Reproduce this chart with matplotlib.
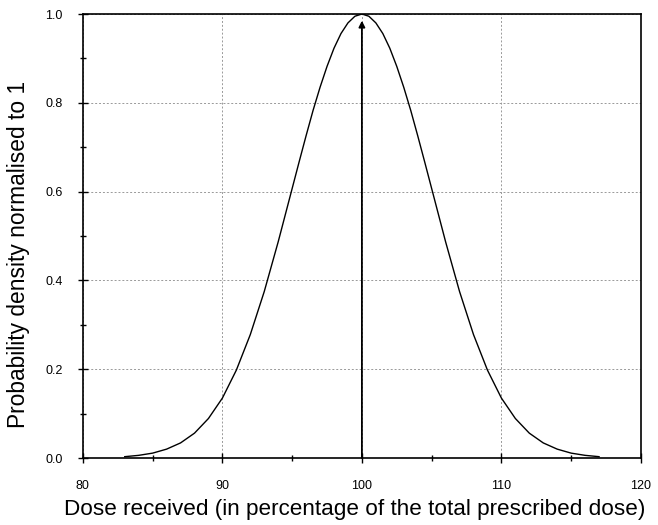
import matplotlib
matplotlib.use("Agg")
import matplotlib.pyplot as plt
from matplotlib.ticker import MultipleLocator, FormatStrFormatter

plt.rcParams['font.family'] = ['Liberation Sans', 'DejaVu Sans']

dose = [83, 84, 85, 86, 87, 88, 89, 90, 91, 92, 93, 94, 95, 95.5, 96, 96.5, 97, 97.5,
        98, 98.5, 99, 99.5, 100, 100.5, 101, 101.5, 102, 102.5, 103, 103.5, 104, 104.5,
        105, 106, 107, 108, 109, 110, 111, 112, 113, 114, 115, 116, 117]
density = [0.003, 0.006, 0.011, 0.020, 0.034, 0.056, 0.089, 0.135, 0.198, 0.278, 0.375,
           0.487, 0.607, 0.667, 0.726, 0.783, 0.835, 0.882, 0.923, 0.956, 0.980, 0.995,
           1.000, 0.995, 0.980, 0.956, 0.923, 0.882, 0.835, 0.783, 0.726, 0.667,
           0.607, 0.487, 0.375, 0.278, 0.198, 0.135, 0.089,
           0.056, 0.034, 0.020, 0.011, 0.006, 0.003]
arrow_x = 100
arrow_top = 0.985

fig = plt.figure(figsize=(6.58, 5.25), dpi=100)
ax = fig.add_axes([0.126, 0.1276, 0.848, 0.8457])
ax.plot(dose, density, color="black", lw=1.0)
ax.annotate("", xy=(arrow_x, arrow_top), xytext=(arrow_x, 0),
            arrowprops=dict(arrowstyle="-|>", color="black", lw=1.3,
                            mutation_scale=9, shrinkA=0, shrinkB=0))
ax.set_xlim(80, 120)
ax.set_ylim(0, 1.0)
ax.xaxis.set_major_locator(MultipleLocator(10))
ax.xaxis.set_minor_locator(MultipleLocator(5))
ax.yaxis.set_major_locator(MultipleLocator(0.2))
ax.yaxis.set_minor_locator(MultipleLocator(0.1))
ax.yaxis.set_major_formatter(FormatStrFormatter("%.1f"))
ax.grid(True, which="major", color="#999999", ls=(0, (2, 2)), lw=0.7)
ax.tick_params(which="both", direction="inout", length=7, width=1.0, labelsize=9, color="black")
ax.tick_params(which="minor", length=5)
ax.tick_params(axis="x", pad=12)
ax.tick_params(axis="y", pad=11)
for s in ax.spines.values():
    s.set_linewidth(1.2)
ax.set_xlabel("Dose received (in percentage of the total prescribed dose)", fontsize=16.2)
ax.set_ylabel("Probability density normalised to 1", fontsize=16.4)
ax.xaxis.set_label_coords(0.487, -0.093)
ax.yaxis.set_label_coords(-0.095, 0.459)
fig.savefig("out.png", dpi=100)
